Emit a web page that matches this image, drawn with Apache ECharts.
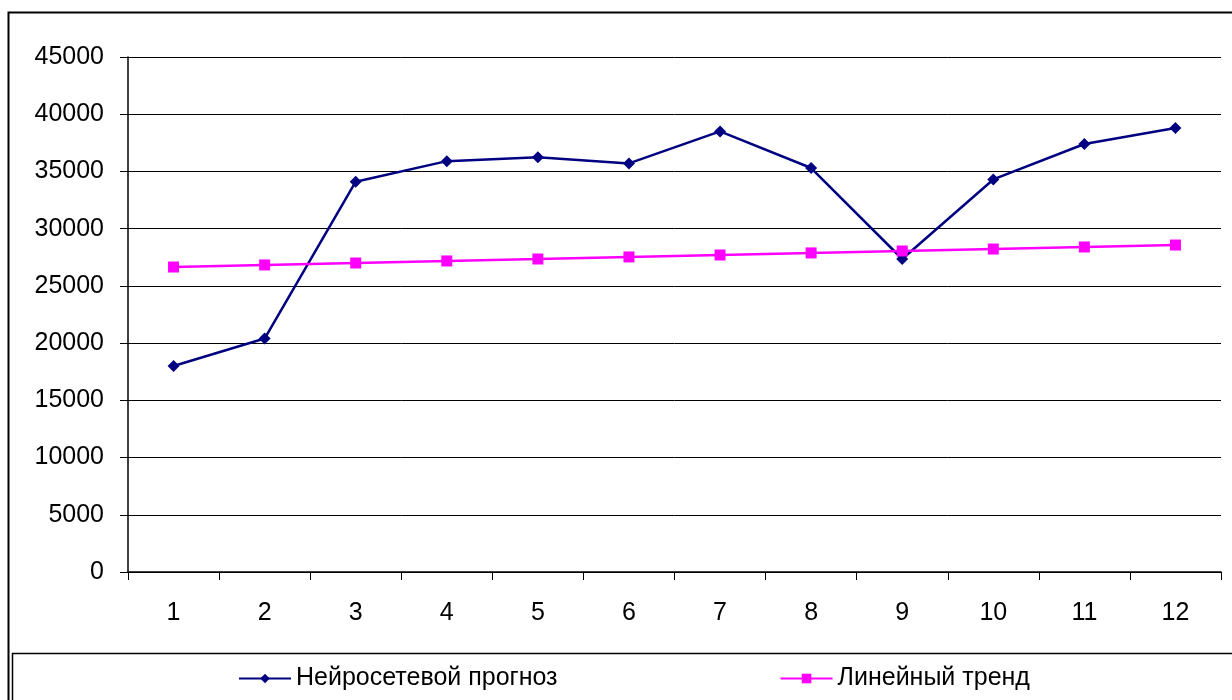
<!DOCTYPE html>
<html><head><meta charset="utf-8">
<script src="https://cdn.jsdelivr.net/npm/echarts@6/dist/echarts.min.js"></script>
<style>html,body{margin:0;padding:0;background:#fff}#c{width:1232px;height:700px}</style>
</head><body><div id="c"></div>
<script>
const categories = ['1','2','3','4','5','6','7','8','9','10','11','12'];
const neuralForecast = [18000, 20400, 34100, 35900, 36250, 35700, 38500, 35300, 27350, 34300, 37400, 38800];
const linearTrend = [26650, 26830, 27000, 27180, 27350, 27530, 27700, 27880, 28050, 28220, 28400, 28570];
const seriesNames = ['Нейросетевой прогноз', 'Линейный тренд'];

const FONT = 'Liberation Sans, Arial, sans-serif';
const chart = echarts.init(document.getElementById('c'));
chart.setOption({
  animation: false,
  backgroundColor: '#fff',
  graphic: [
    {type:'rect', shape:{x:8.5,y:12.5,width:1240,height:700}, style:{fill:'none',stroke:'#000',lineWidth:2}, silent:true, z:-1},
    {type:'rect', shape:{x:12.5,y:653.5,width:1240,height:100}, style:{fill:'none',stroke:'#000',lineWidth:1.5}, silent:true, z:-1}
  ],
  grid: {left:128, right:11, top:57, bottom:128},
  legend: {
    left: 238, top: 666, padding: 0,
    itemWidth: 52, itemHeight: 12, itemGap: 222,
    textStyle: {fontFamily: FONT, fontSize: 25, color:'#000'},
    data: seriesNames
  },
  xAxis: {
    type:'category', data: categories, boundaryGap: true,
    axisLine:{lineStyle:{color:'#000',width:1.5}},
    axisTick:{show:true, length:8, inside:false, lineStyle:{color:'#000'}},
    axisLabel:{fontFamily:FONT, fontSize:25, color:'#000', margin:29},
    splitLine:{show:false}
  },
  yAxis: {
    type:'value', min:0, max:45000, interval:5000,
    axisLine:{show:true, lineStyle:{color:'#000',width:1.5}},
    axisTick:{show:true, length:8, lineStyle:{color:'#000'}},
    axisLabel:{fontFamily:FONT, fontSize:25, color:'#000', margin:24, formatter: v => String(v)},
    splitLine:{show:true, lineStyle:{color:'#000', width:1}}
  },
  series: [
    {name: seriesNames[0], type:'line', data: neuralForecast, symbol:'diamond', symbolSize:12,
     lineStyle:{color:'#000080', width:2.5}, itemStyle:{color:'#000080'}, z:3},
    {name: seriesNames[1], type:'line', data: linearTrend, symbol:'rect', symbolSize:11,
     lineStyle:{color:'#ff00ff', width:2.5}, itemStyle:{color:'#ff00ff'}, z:4}
  ]
});
</script></body></html>
